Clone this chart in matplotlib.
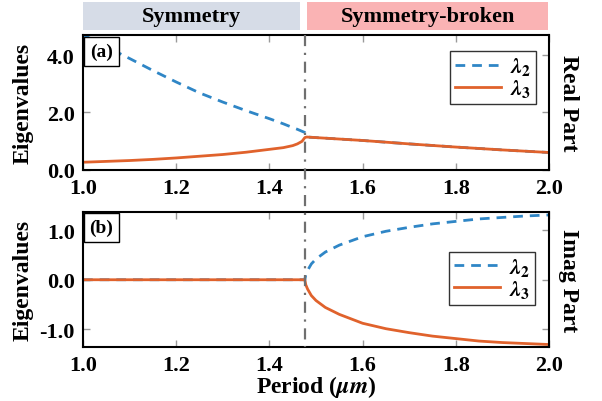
import matplotlib
matplotlib.use("Agg")
import matplotlib.pyplot as plt
from matplotlib.lines import Line2D
from matplotlib.patches import Rectangle
import matplotlib.transforms as mtransforms

plt.rcParams['font.family'] = ['Liberation Serif', 'DejaVu Serif']
plt.rcParams['font.weight'] = 'bold'
plt.rcParams['mathtext.fontset'] = 'stix'
plt.rcParams['axes.unicode_minus'] = False

# ---- data ----
x_real = [1.0, 1.05, 1.1, 1.15, 1.2, 1.25, 1.3, 1.35, 1.4, 1.43, 1.45, 1.46, 1.47, 1.476,
          1.48, 1.55, 1.6, 1.7, 1.8, 1.9, 2.0]
re_l2 = [4.71, 4.29, 3.88, 3.46, 3.06, 2.68, 2.36, 2.06, 1.78, 1.60, 1.47, 1.41, 1.34, 1.30,
         1.14, 1.07, 1.02, 0.90, 0.79, 0.69, 0.60]
re_l3 = [0.26, 0.29, 0.32, 0.36, 0.41, 0.47, 0.53, 0.61, 0.71, 0.77, 0.84, 0.90, 0.99, 1.12,
         1.14, 1.07, 1.02, 0.90, 0.79, 0.69, 0.60]

x_imag = [1.0, 1.2, 1.4, 1.476, 1.478, 1.482, 1.49, 1.50, 1.52, 1.55, 1.6, 1.65, 1.7,
          1.75, 1.8, 1.85, 1.9, 1.95, 2.0]
im_l2 = [0.0, 0.0, 0.0, 0.0, 0.10, 0.19, 0.32, 0.42, 0.56, 0.70, 0.87, 0.98, 1.06,
         1.13, 1.18, 1.23, 1.26, 1.29, 1.31]
im_l3 = [0.0, 0.0, 0.0, 0.0, -0.10, -0.19, -0.32, -0.42, -0.56, -0.70, -0.88, -0.99, -1.07,
         -1.14, -1.19, -1.24, -1.27, -1.29, -1.31]

x_ticks = [1.0, 1.2, 1.4, 1.6, 1.8, 2.0]
y_ticks_a = [0.0, 2.0, 4.0]
y_ticks_b = [-1.0, 0.0, 1.0]
x_ep = 1.476
region_labels = ['Symmetry', 'Symmetry-broken']
legend_labels = [r'$\mathbfit{\lambda}_2$', r'$\mathbfit{\lambda}_3$']

c_blue = '#2f86c6'
c_orange = '#e0622c'

fig = plt.figure(figsize=(6.02, 4.02), dpi=100)
W, H = 602, 402
def pos(l, t, r, b):
    return [l / W, 1 - b / H, (r - l) / W, (b - t) / H]

ax1 = fig.add_axes(pos(83, 36, 549, 170.7))
ax2 = fig.add_axes(pos(83, 213, 549, 348))

for ax in (ax1, ax2):
    ax.set_xlim(1.0, 2.0)
    ax.set_xticks(x_ticks)
    ax.set_xticklabels(['%.1f' % v for v in x_ticks])
    ax.tick_params(direction='in', length=5, width=1, color='#9a9a9a',
                   top=True, right=True, labelsize=16, pad=6)
    for s in ax.spines.values():
        s.set_linewidth(1.5)
        s.set_color('black')

dash = (0, (3.5, 2.5))
ax1.plot(x_real, re_l2, color=c_blue, lw=2, linestyle=dash, label=legend_labels[0])
ax1.plot(x_real, re_l3, color=c_orange, lw=2, label=legend_labels[1])
ax1.set_ylim(0, 4.7)
ax1.set_yticks(y_ticks_a)
ax1.set_yticklabels(['%.1f' % v for v in y_ticks_a])

ax2.plot(x_imag, im_l2, color=c_blue, lw=2, linestyle=dash, label=legend_labels[0])
ax2.plot(x_imag, im_l3, color=c_orange, lw=2, label=legend_labels[1])
ax2.set_ylim(-1.36, 1.37)
ax2.set_yticks(y_ticks_b)
ax2.set_yticklabels(['%.1f' % v for v in y_ticks_b])

for ax in (ax1, ax2):
    for lab in ax.get_xticklabels() + ax.get_yticklabels():
        lab.set_fontweight('bold')

leg_kw = dict(fontsize=16, frameon=True, fancybox=False, edgecolor='black',
              handlelength=2.1, labelspacing=0.0, borderpad=0.2,
              handletextpad=0.4, borderaxespad=0.0)
l1 = ax1.legend(loc='upper right', bbox_to_anchor=(0.972, 0.882), **leg_kw)
l2 = ax2.legend(loc='center right', bbox_to_anchor=(0.970, 0.51), **leg_kw)
for l in (l1, l2):
    l.get_frame().set_linewidth(1.0)

ax1.set_ylabel('Eigenvalues', fontsize=17, fontweight='bold')
ax2.set_ylabel('Eigenvalues', fontsize=17, fontweight='bold')
ax1.yaxis.set_label_coords(-0.107, 0.5)
ax2.yaxis.set_label_coords(-0.107, 0.5)
ax2.set_xlabel(r'Period ($\mu m$)', fontsize=17, fontweight='bold')
ax2.xaxis.set_label_coords(0.5, -0.195)

ax1.text(1.041, 0.5, 'Real Part', rotation=270, transform=ax1.transAxes,
         ha='center', va='center', fontsize=17, fontweight='bold')
ax2.text(1.041, 0.5, 'Imag Part', rotation=270, transform=ax2.transAxes,
         ha='center', va='center', fontsize=17, fontweight='bold')

box = dict(boxstyle='square,pad=0.3', facecolor='white', edgecolor='black', linewidth=1.0)
ax1.text(0.0397, 0.881, '(a)', transform=ax1.transAxes, ha='center', va='center',
         fontsize=14, fontweight='bold', bbox=box)
ax2.text(0.0397, 0.885, '(b)', transform=ax2.transAxes, ha='center', va='center',
         fontsize=14, fontweight='bold', bbox=box)

# region header boxes
fig.add_artist(Rectangle((83 / W, 1 - 31 / H), (300 - 83) / W, 28 / H,
                         transform=fig.transFigure, facecolor='#d6dce7', edgecolor='none'))
fig.add_artist(Rectangle((307 / W, 1 - 31 / H), (548 - 307) / W, 28 / H,
                         transform=fig.transFigure, facecolor='#fab3b4', edgecolor='none'))
fig.text((83 + 300) / 2 / W, 1 - 17 / H, region_labels[0], ha='center', va='center',
         fontsize=16, fontweight='bold')
fig.text((307 + 548) / 2 / W, 1 - 17 / H, region_labels[1], ha='center', va='center',
         fontsize=16, fontweight='bold')

# EP vertical dash-dot line spanning both panels
trans = mtransforms.blended_transform_factory(ax1.transData, fig.transFigure)
fig.add_artist(Line2D([x_ep, x_ep], [1 - 36 / H, 1 - 348 / H], transform=trans,
                      color='#6f6f6f', lw=1.6, linestyle=(0, (5, 3, 1, 3)), zorder=5))

fig.savefig('out.png', dpi=100)
